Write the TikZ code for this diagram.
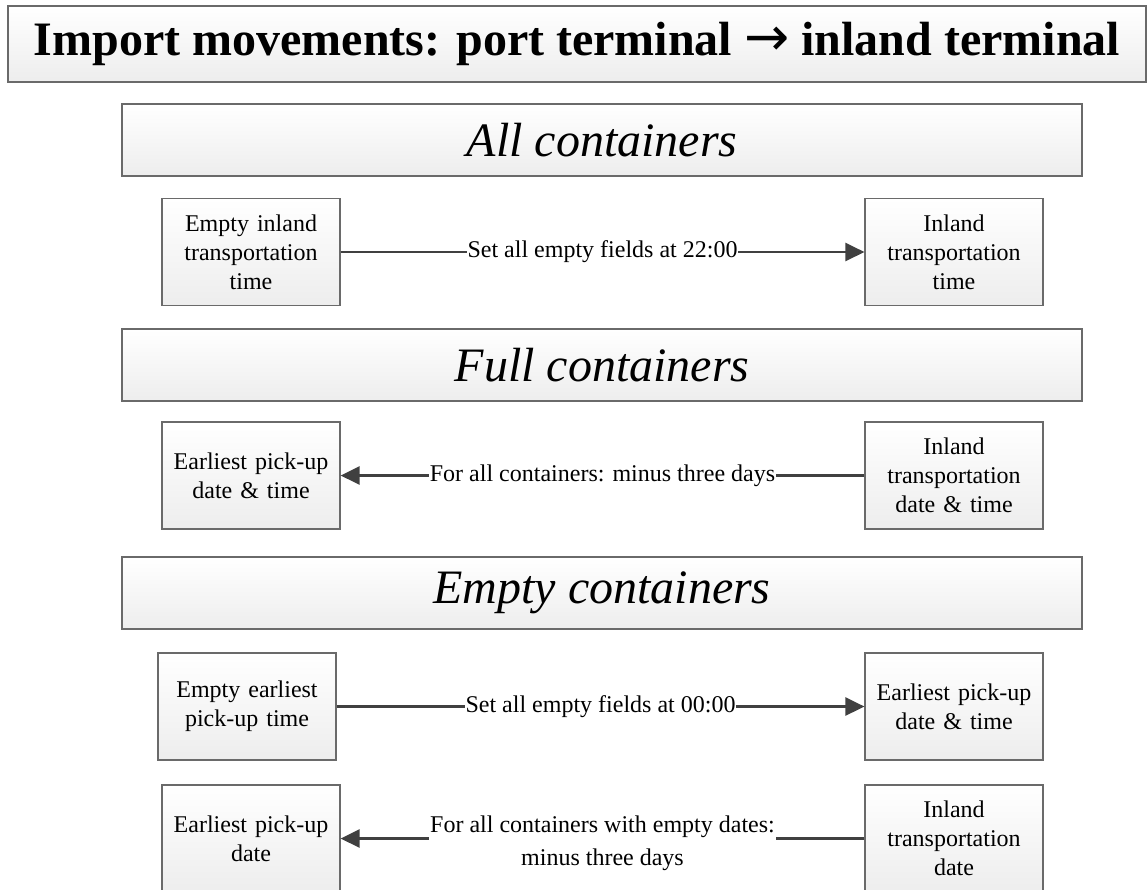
\documentclass[tikz,border=0pt]{standalone}
\usepackage{fontspec}
\setmainfont{Liberation Serif}
\newfontfamily\arrowfont{DejaVu Sans}
\usetikzlibrary{arrows.meta}
\definecolor{bordergray}{HTML}{6A6A6A}
\definecolor{linegray}{HTML}{404040}
\tikzset{
  gbox/.style={draw=bordergray, line width=1.2pt, top color=white, bottom color=black!7,
    rectangle, anchor=center, inner sep=2pt, align=center},
  titlebox/.style={gbox, minimum width=1138pt, minimum height=76pt,
    font=\fontsize{48}{55}\selectfont\bfseries},
  secbox/.style={gbox, minimum width=960pt, minimum height=72pt,
    font=\fontsize{48}{55}\selectfont\itshape},
  smallbox/.style={gbox, minimum width=178pt, minimum height=107pt,
    text width=170pt, font=\fontsize{24}{29}\selectfont},
  arr/.style={draw=linegray, line width=2.8pt,
    -{Triangle[length=19pt, width=18pt]}},
  lab/.style={fill=white, inner xsep=0.5pt, inner ysep=1pt, align=center,
    font=\fontsize{24}{33}\selectfont},
}
\begin{document}
\begin{tikzpicture}[x=1pt, y=-1pt]
\useasboundingbox (0,0) rectangle (1148,889);

\node[titlebox] (title) at (577,44) {Import movements: port terminal {\arrowfont\fontsize{54}{55}\selectfont\mdseries →} inland terminal};

\node[secbox] (all) at (602,140) {All containers};
\node[smallbox] (r1l) at (251,252) {Empty inland\\transportation\\time};
\node[smallbox] (r1r) at (954,252) {Inland\\transportation\\time};
\draw[arr] (r1l.east) -- node[lab] (l1) {Set all empty fields at 22:00} (r1r.west);

\node[secbox] (full) at (602,365) {Full containers};
\node[smallbox] (r2l) at (251,475.5) {Earliest pick-up\\date \& time};
\node[smallbox] (r2r) at (954,475.5) {Inland\\transportation\\date \& time};
\draw[arr] (r2r.west) -- node[lab] (l2) {For all containers: minus three days} (r2l.east);

\node[secbox] (empty) at (602,593) {Empty containers};
\node[smallbox] (r3l) at (247,706.5) {Empty earliest\\pick-up time};
\node[smallbox] (r3r) at (954,706.5) {Earliest pick-up\\date \& time};
\draw[arr] (r3l.east) -- node[lab] (l3) {Set all empty fields at 00:00} (r3r.west);

\node[smallbox] (r4l) at (251,838.5) {Earliest pick-up\\date};
\node[smallbox] (r4r) at (954,838.5) {Inland\\transportation\\date};
\draw[arr] (r4r.west) -- node[lab, inner xsep=1pt, yshift=-5pt] (l4) {For all containers with empty dates:\\minus three days} (r4l.east);
\end{tikzpicture}
\end{document}
